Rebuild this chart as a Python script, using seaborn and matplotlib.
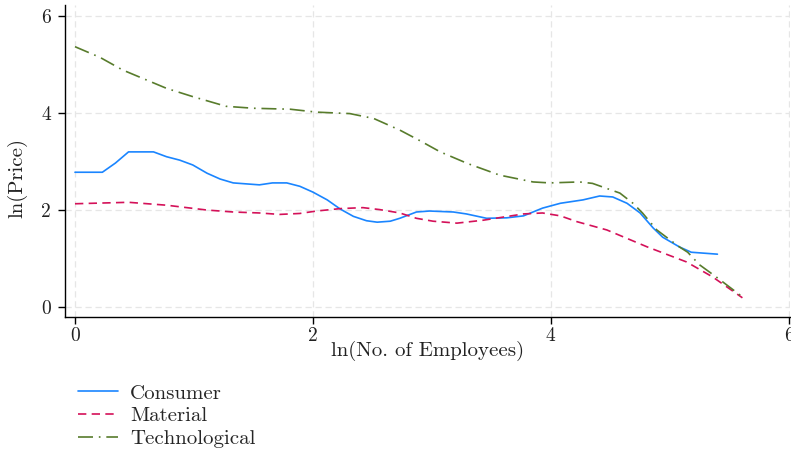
import matplotlib
matplotlib.use("Agg")
import matplotlib.pyplot as plt
import seaborn as sns
import pandas as pd
from matplotlib.lines import Line2D

# ---- data ----
consumer_x = [0.0, 0.23, 0.34, 0.45, 0.66, 0.77, 0.88, 0.99, 1.11, 1.22, 1.33, 1.55, 1.66, 1.78, 1.89,
              2.0, 2.12, 2.23, 2.34, 2.45, 2.54, 2.65, 2.73, 2.87, 2.98, 3.18, 3.29, 3.46, 3.63, 3.77,
              3.93, 4.08, 4.27, 4.41, 4.52, 4.64, 4.75, 4.86, 4.94, 5.08, 5.18, 5.40]
consumer_y = [2.78, 2.78, 2.97, 3.20, 3.20, 3.10, 3.03, 2.93, 2.76, 2.64, 2.56, 2.52, 2.56, 2.56, 2.49,
              2.37, 2.21, 2.02, 1.87, 1.78, 1.75, 1.77, 1.83, 1.96, 1.98, 1.96, 1.92, 1.83, 1.84, 1.88,
              2.04, 2.14, 2.21, 2.29, 2.27, 2.14, 1.94, 1.63, 1.44, 1.24, 1.13, 1.09]

material_x = [0.0, 0.45, 0.77, 1.11, 1.33, 1.55, 1.72, 1.89, 2.03, 2.23, 2.42, 2.56, 2.73, 2.87,
              3.01, 3.21, 3.43, 3.77, 3.93, 4.08, 4.22, 4.47, 4.81, 5.14, 5.36, 5.61]
material_y = [2.13, 2.16, 2.10, 2.00, 1.96, 1.94, 1.91, 1.93, 1.98, 2.03, 2.05, 2.01, 1.94, 1.83,
              1.77, 1.73, 1.79, 1.92, 1.94, 1.88, 1.76, 1.59, 1.24, 0.93, 0.62, 0.19]

tech_x = [0.0, 0.21, 0.40, 0.77, 0.99, 1.27, 1.50, 1.81, 2.03, 2.31, 2.51, 2.73, 2.90, 3.07, 3.30,
          3.57, 3.85, 3.99, 4.24, 4.35, 4.58, 4.69, 4.77, 4.89, 5.08, 5.15, 5.25, 5.39, 5.61]
tech_y = [5.37, 5.15, 4.89, 4.51, 4.34, 4.14, 4.10, 4.08, 4.02, 3.99, 3.89, 3.65, 3.43, 3.20, 2.96,
          2.72, 2.58, 2.56, 2.58, 2.55, 2.35, 2.14, 1.94, 1.59, 1.24, 1.13, 0.87, 0.62, 0.21]

series_names = ["Consumer", "Material", "Technological"]
x_ticks = [0, 2, 4, 6]
y_ticks = [0, 2, 4, 6]

df = pd.concat([
    pd.DataFrame({"x": consumer_x, "y": consumer_y, "sector": series_names[0]}),
    pd.DataFrame({"x": material_x, "y": material_y, "sector": series_names[1]}),
    pd.DataFrame({"x": tech_x, "y": tech_y, "sector": series_names[2]}),
], ignore_index=True)

colors = {"Consumer": "#1a85ff", "Material": "#d41159", "Technological": "#587c2c"}
dashes = {"Consumer": "", "Material": (5, 3.2), "Technological": (9, 3.5, 1, 3.5)}

sns.set_theme(style="white")
plt.rcParams["font.family"] = ["cmr10", "DejaVu Serif"]
plt.rcParams["axes.formatter.use_mathtext"] = False

fig = plt.figure(figsize=(7.91, 4.53), dpi=100)
ax = fig.add_axes([65/791, 1-317/453, (790-65)/791, (317-5)/453])

sns.lineplot(data=df, x="x", y="y", hue="sector", style="sector", palette=colors,
             dashes=dashes, sort=False, estimator=None, linewidth=1.2, ax=ax, legend=False)

ax.set_xlim(-0.084, 6.01)
ax.set_ylim(-0.206, 6.23)
ax.set_xticks(x_ticks)
ax.set_yticks(y_ticks)
ax.set_xticklabels([str(t) for t in x_ticks])
ax.set_yticklabels([str(t) for t in y_ticks])
ax.grid(True, color="#e6e6e6", linestyle=(0, (5, 3)), linewidth=0.9)
for s in ["top", "right"]:
    ax.spines[s].set_visible(False)
for s in ["left", "bottom"]:
    ax.spines[s].set_color("black")
    ax.spines[s].set_linewidth(1.0)
ax.tick_params(axis="both", which="major", direction="out", length=5, width=1.0,
               color="black", labelsize=14, labelcolor="#222222", left=True, bottom=True)
ax.tick_params(axis="y", pad=5)
ax.tick_params(axis="x", pad=2)
ax.set_xlabel("ln(No. of Employees)", fontsize=15, color="#222222")
ax.set_ylabel("ln(Price)", fontsize=15, color="#222222")
ax.xaxis.set_label_coords(0.5, (317-351)/312, transform=ax.transAxes)
ax.xaxis.label.set_va("center")
ax.yaxis.set_label_coords((17-65)/725, (317-178)/312, transform=ax.transAxes)
ax.yaxis.label.set_va("center")

handles = [Line2D([], [], color=colors[n], linewidth=1.2,
                  linestyle="-" if dashes[n] == "" else (0, dashes[n])) for n in series_names]
fig.legend(handles, series_names, loc="upper left", bbox_to_anchor=(78/791, 1-384/453),
           frameon=False, fontsize=15, handlelength=1.9, handletextpad=0.6,
           labelspacing=0.2, borderaxespad=0, borderpad=0)

fig.savefig("out.png", dpi=100)
